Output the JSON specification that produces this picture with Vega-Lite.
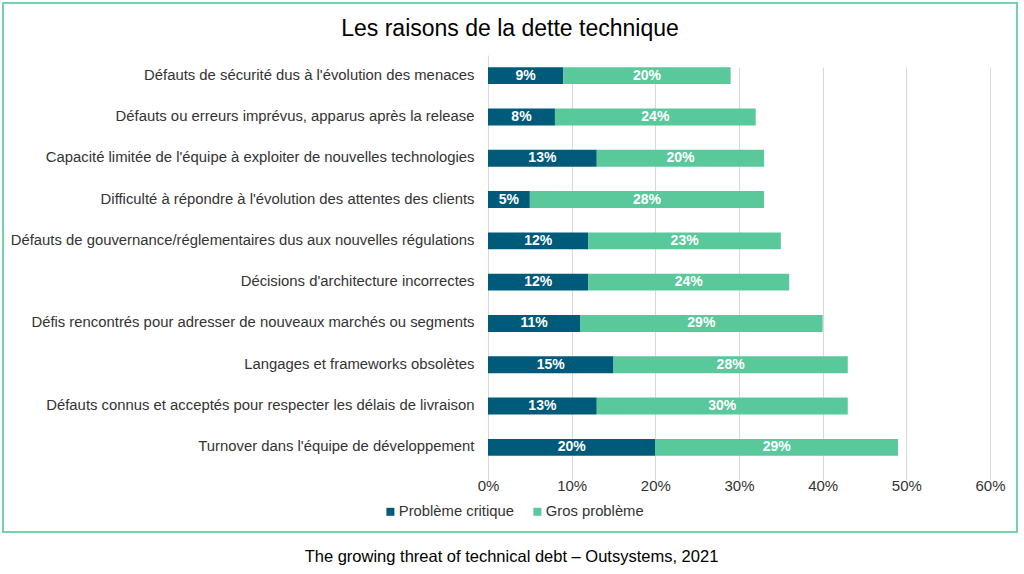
{
  "$schema": "https://vega.github.io/schema/vega-lite/v6.json",
  "autosize": "none",
  "padding": {"left": 3, "top": 3, "right": 7, "bottom": 42},
  "width": 1014,
  "height": 529,
  "background": "white",
  "title": {
    "text": "Les raisons de la dette technique",
    "font": "Liberation Sans",
    "fontSize": 23,
    "fontWeight": "normal",
    "color": "#000000",
    "anchor": "middle",
    "baseline": "middle",
    "offset": -24,
    "dy": 25
  },
  "data": {
    "values": [
      {"raison": "Défauts de sécurité dus à l'évolution des menaces", "serie": "Problème critique", "pct": 0.09},
      {"raison": "Défauts de sécurité dus à l'évolution des menaces", "serie": "Gros problème", "pct": 0.20},
      {"raison": "Défauts ou erreurs imprévus, apparus après la release", "serie": "Problème critique", "pct": 0.08},
      {"raison": "Défauts ou erreurs imprévus, apparus après la release", "serie": "Gros problème", "pct": 0.24},
      {"raison": "Capacité limitée de l'équipe à exploiter de nouvelles technologies", "serie": "Problème critique", "pct": 0.13},
      {"raison": "Capacité limitée de l'équipe à exploiter de nouvelles technologies", "serie": "Gros problème", "pct": 0.20},
      {"raison": "Difficulté à répondre à l'évolution des attentes des clients", "serie": "Problème critique", "pct": 0.05},
      {"raison": "Difficulté à répondre à l'évolution des attentes des clients", "serie": "Gros problème", "pct": 0.28},
      {"raison": "Défauts de gouvernance/réglementaires dus aux nouvelles régulations", "serie": "Problème critique", "pct": 0.12},
      {"raison": "Défauts de gouvernance/réglementaires dus aux nouvelles régulations", "serie": "Gros problème", "pct": 0.23},
      {"raison": "Décisions d'architecture incorrectes", "serie": "Problème critique", "pct": 0.12},
      {"raison": "Décisions d'architecture incorrectes", "serie": "Gros problème", "pct": 0.24},
      {"raison": "Défis rencontrés pour adresser de nouveaux marchés ou segments", "serie": "Problème critique", "pct": 0.11},
      {"raison": "Défis rencontrés pour adresser de nouveaux marchés ou segments", "serie": "Gros problème", "pct": 0.29},
      {"raison": "Langages et frameworks obsolètes", "serie": "Problème critique", "pct": 0.15},
      {"raison": "Langages et frameworks obsolètes", "serie": "Gros problème", "pct": 0.28},
      {"raison": "Défauts connus et acceptés pour respecter les délais de livraison", "serie": "Problème critique", "pct": 0.13},
      {"raison": "Défauts connus et acceptés pour respecter les délais de livraison", "serie": "Gros problème", "pct": 0.30},
      {"raison": "Turnover dans l'équipe de développement", "serie": "Problème critique", "pct": 0.20},
      {"raison": "Turnover dans l'équipe de développement", "serie": "Gros problème", "pct": 0.29}
    ]
  },
  "encoding": {
    "y": {
      "field": "raison",
      "type": "nominal",
      "sort": null,
      "scale": {"range": [52, 465], "paddingInner": 0.59, "paddingOuter": 0.295},
      "axis": {
        "title": null,
        "orient": "left",
        "offset": -485,
        "domain": true,
        "domainColor": "#D5D8EC",
        "domainWidth": 1,
        "ticks": false,
        "tickSize": 0,
        "grid": false,
        "labelPadding": 14,
        "labelFont": "Liberation Sans",
        "labelFontSize": 14.85,
        "labelColor": "#333333",
        "labelLimit": 0
      }
    },
    "x": {
      "field": "pct",
      "type": "quantitative",
      "stack": "zero",
      "scale": {"domain": [0, 0.6], "range": [485, 987], "nice": false},
      "axis": {
        "title": "The growing threat of technical debt – Outsystems, 2021",
        "titleFont": "Liberation Sans",
        "titleFontSize": 16.5,
        "titleFontWeight": "normal",
        "titleColor": "#000000",
        "titlePadding": 55,
        "titleX": 508,
        "titleAnchor": "middle",
        "orient": "bottom",
        "offset": -64,
        "values": [0, 0.1, 0.2, 0.3, 0.4, 0.5, 0.6],
        "format": ".0%",
        "domain": false,
        "ticks": false,
        "tickSize": 0,
        "grid": true,
        "gridColor": "#D9D9D9",
        "gridWidth": 1,
        "labelPadding": 10,
        "labelFlush": false,
        "labelFont": "Liberation Sans",
        "labelFontSize": 15,
        "labelColor": "#333333"
      }
    },
    "order": {"field": "serie", "sort": "descending"}
  },
  "layer": [
    {
      "mark": {"type": "bar"},
      "encoding": {
        "color": {
          "field": "serie",
          "type": "nominal",
          "scale": {"domain": ["Problème critique", "Gros problème"], "range": ["#005A7A", "#59C89B"]},
          "legend": {
            "title": null,
            "orient": "none",
            "direction": "horizontal",
            "legendX": 380,
            "legendY": 501,
            "symbolType": "square",
            "symbolSize": 64,
            "symbolStrokeWidth": 0,
            "labelFont": "Liberation Sans",
            "labelFontSize": 14.8,
            "labelColor": "#333333",
            "columnPadding": 16,
            "labelOffset": 1
          }
        }
      }
    },
    {
      "mark": {"type": "text", "color": "white", "font": "Liberation Sans", "fontSize": 14, "fontWeight": "bold", "baseline": "middle", "align": "center"},
      "encoding": {
        "x": {"field": "pct", "type": "quantitative", "stack": "zero", "bandPosition": 0.5},
        "text": {"field": "pct", "type": "quantitative", "format": ".0%"},
        "detail": {"field": "serie"}
      }
    }
  ],
  "config": {
    "view": {"stroke": "#74D1AB", "strokeWidth": 2}
  }
}
